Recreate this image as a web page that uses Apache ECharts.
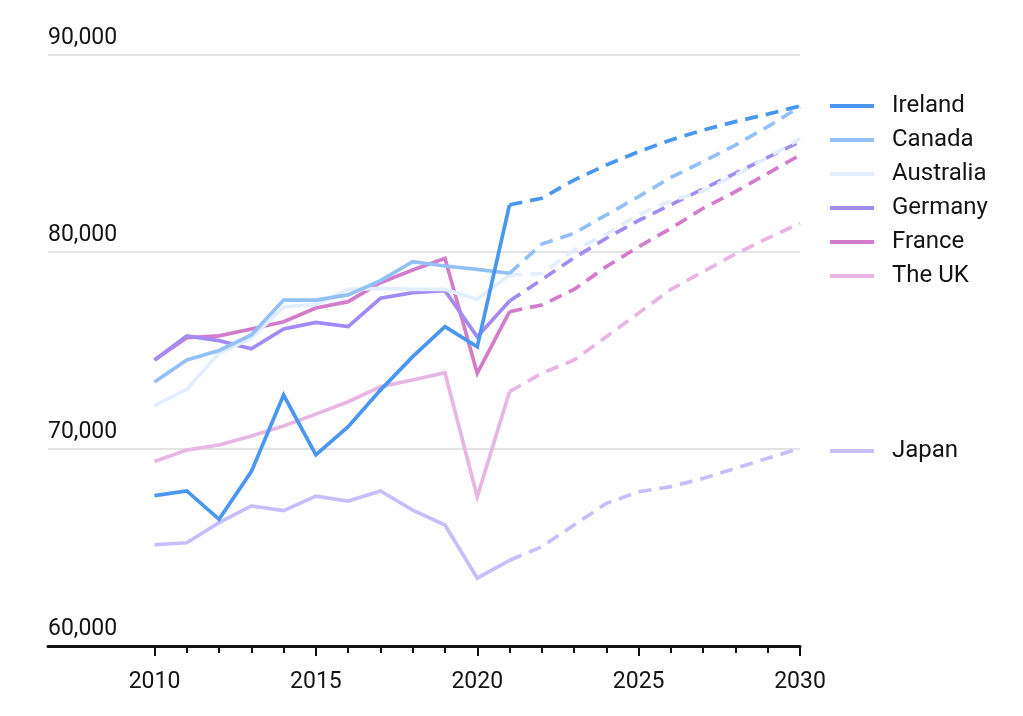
<!DOCTYPE html>
<html>
<head>
<meta charset="utf-8">
<script src="https://cdn.jsdelivr.net/npm/echarts@6/dist/echarts.min.js"></script>
<style>
html,body{margin:0;padding:0;background:#fff;}
#chart{width:1023px;height:716px;}
</style>
</head>
<body>
<div id="chart"></div>
<script>
// Years
const actualYears = [2010, 2011, 2012, 2013, 2014, 2015, 2016, 2017, 2018, 2019, 2020, 2021];
const forecastYears = [2021, 2022, 2023, 2024, 2025, 2026, 2027, 2028, 2029, 2030];
const minorTickYears = [2010, 2011, 2012, 2013, 2014, 2015, 2016, 2017, 2018, 2019, 2020, 2021, 2022, 2023, 2024, 2025, 2026, 2027, 2028, 2029, 2030];
const majorTickYears = [2010, 2015, 2020, 2025, 2030];

const countries = ["Ireland", "Canada", "Australia", "Germany", "France", "The UK", "Japan"];
const colors = ["#4a97f0", "#93c1f7", "#e2eefd", "#a38bf5", "#d27ccb", "#e7b6e3", "#c7bffc"];

const irelandActual = [67630, 67870, 66430, 68850, 72740, 69700, 71130, 72990, 74690, 76210, 75190, 82390];
const irelandForecast = [82390, 82730, 83650, 84420, 85090, 85690, 86190, 86620, 87000, 87410];
const canadaActual = [73400, 74520, 75000, 75790, 77560, 77560, 77820, 78550, 79510, 79290, 79120, 78920];
const canadaForecast = [78920, 80400, 80950, 81880, 82810, 83790, 84590, 85430, 86360, 87380];
const australiaActual = [72200, 73030, 74860, 75620, 77220, 77340, 78100, 78150, 78100, 78100, 77600, 78830];
const australiaForecast = [78830, 78900, 80100, 80900, 81900, 82600, 83100, 83900, 84800, 85750];
const germanyActual = [74520, 75740, 75500, 75090, 76090, 76430, 76210, 77650, 77940, 78040, 75700, 77510];
const germanyForecast = [77510, 78600, 79700, 80700, 81600, 82400, 83200, 84000, 84800, 85600];
const franceActual = [74520, 75650, 75740, 76090, 76460, 77160, 77480, 78440, 79090, 79680, 73840, 76970];
const franceForecast = [76970, 77310, 78100, 79260, 80270, 81200, 82220, 83060, 83990, 84920];
const ukActual = [69360, 69950, 70200, 70660, 71170, 71770, 72400, 73160, 73500, 73870, 67580, 72910];
const ukForecast = [72910, 73840, 74520, 75700, 76900, 78100, 79000, 79900, 80700, 81460];
const japanActual = [65140, 65240, 66260, 67110, 66870, 67610, 67360, 67870, 66900, 66140, 63440, 64350];
const japanForecast = [64350, 65040, 66140, 67240, 67830, 68090, 68510, 69020, 69530, 70030];

const actuals = [irelandActual, canadaActual, australiaActual, germanyActual, franceActual, ukActual, japanActual];
const forecasts = [irelandForecast, canadaForecast, australiaForecast, germanyForecast, franceForecast, ukForecast, japanForecast];

const FONT = 'Roboto';
const TEXT = '#141414';
const zip = (xs, ys) => xs.map((x, i) => [x, ys[i]]);

const series = [];
// draw Japan first, Ireland last (on top)
for (let i = countries.length - 1; i >= 0; i--) {
  series.push({
    name: countries[i], type: 'line', showSymbol: false, symbol: 'none',
    data: zip(actualYears, actuals[i]),
    itemStyle: { color: colors[i] },
    lineStyle: { color: colors[i], width: 3.7, cap: 'butt', join: 'miter' },
    z: 10 + (countries.length - i)
  });
  series.push({
    name: countries[i], type: 'line', showSymbol: false, symbol: 'none',
    data: zip(forecastYears, forecasts[i]),
    itemStyle: { color: colors[i] },
    lineStyle: { color: colors[i], width: 3.7, type: [13, 8], cap: 'butt' },
    z: 10 + (countries.length - i)
  });
}

const legendCommon = {
  orient: 'vertical', left: 830, padding: 0, icon: 'rect', itemWidth: 44, itemHeight: 4, itemGap: 10,
  selectedMode: false,
  textStyle: { fontFamily: FONT, fontSize: 24, lineHeight: 24, color: TEXT, padding: [0, 0, 0, 13] }
};

const chart = echarts.init(document.getElementById('chart'), null, { renderer: 'canvas' });
chart.setOption({
  animation: false,
  backgroundColor: '#ffffff',
  grid: { left: 48, right: 223, top: 55, bottom: 70, containLabel: false },
  legend: [
    Object.assign({}, legendCommon, { top: 94, data: countries.slice(0, 6) }),
    Object.assign({}, legendCommon, { top: 439, data: countries.slice(6) })
  ],
  xAxis: [
    {
      type: 'value', min: 2006.7, max: 2030, position: 'bottom',
      axisLine: { show: true, lineStyle: { color: '#111', width: 3 } },
      axisTick: { show: true, customValues: minorTickYears, length: 7, lineStyle: { color: '#111', width: 2 } },
      axisLabel: { customValues: majorTickYears, margin: 25, fontFamily: FONT, fontSize: 23, color: TEXT, formatter: v => String(v) },
      splitLine: { show: false }
    },
    {
      type: 'value', min: 2006.7, max: 2030, position: 'bottom',
      axisLine: { show: false },
      axisTick: { show: true, customValues: majorTickYears, length: 10, lineStyle: { color: '#111', width: 2 } },
      axisLabel: { show: false },
      splitLine: { show: false }
    }
  ],
  yAxis: {
    type: 'value', min: 60000, max: 90000, interval: 10000,
    axisLine: { show: false }, axisTick: { show: false },
    axisLabel: { inside: true, margin: 0, align: 'left', verticalAlign: 'bottom', padding: [0, 0, 5, 0],
      fontFamily: FONT, fontSize: 23, color: TEXT },
    splitLine: { show: true, lineStyle: { color: '#dadada', width: 1.5 } }
  },
  series: series
});
</script>
</body>
</html>
